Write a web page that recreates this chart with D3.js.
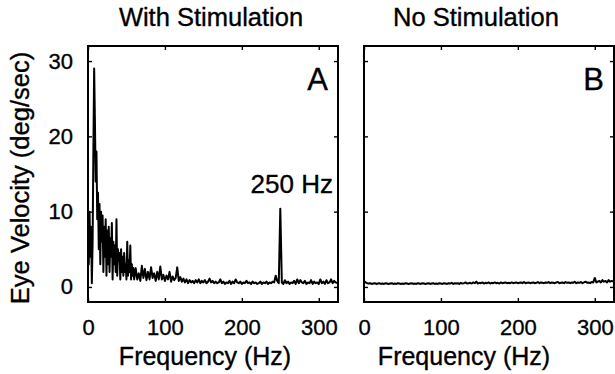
<!DOCTYPE html>
<html>
<head>
<meta charset="utf-8">
<script src="https://cdn.jsdelivr.net/npm/d3@7"></script>
<style>
  html, body { margin: 0; padding: 0; background: #fff; }
  svg { display: block; font-family: "Liberation Sans", Arial, Helvetica, sans-serif; }
  text { fill: #000; stroke: #000; stroke-width: 0.35px; }
</style>
</head>
<body>
<svg id="chart" width="615" height="374"></svg>
<script>
// ---------------- data ----------------
const panelTitles = ["With Stimulation", "No Stimulation"];
const panelLetters = ["A", "B"];
const xTicks = [0, 100, 200, 300];
const yTicks = [0, 10, 20, 30];
const xLabel = "Frequency (Hz)";
const yLabel = "Eye Velocity (deg/sec)";
const peakLabel = "250 Hz";

// Panel A: 1 Hz resolution for 0–59 Hz
const freqA_low = d3.range(0, 60, 1);
const valuesA_low = [
  7, 3, 10, 4, 8, 0.5, 6, 18, 29, 22,
  14, 18, 9, 12.5, 5, 11, 3, 10, 6, 9.5,
  2, 8, 4, 9, 1.5, 7.5, 3, 8, 2, 6.5,
  4, 8.5, 1, 6, 3, 5.5, 2, 9, 1.5, 5,
  3.5, 4.5, 1, 5, 2, 4, 1.5, 4.5, 2, 3,
  1, 6, 1.5, 3.5, 2, 5.5, 1, 3, 1.5, 2.5
];
// Panel A: 2 Hz resolution for 60–324 Hz
const freqA_high = d3.range(60, 326, 2);
const valuesA_high = [
  1, 2.5, 1, 1.8, 0.8, 2.8, 1.2, 2.4, 0.9, 2,
  1, 2.6, 1.2, 1.8, 0.8, 2, 1, 2.7, 1, 1.6,
  0.8, 1.5, 1, 2, 0.7, 1.4, 0.9, 1.2, 2.6, 0.8,
  1.3, 0.7, 1.1, 0.6, 1, 0.5, 0.9, 0.6, 0.8, 0.5,
  0.9, 0.6, 1, 0.5, 0.8, 0.6, 0.9, 0.5, 0.7, 1.1,
  0.6, 0.8, 0.5, 0.7, 0.5, 0.6, 1, 0.5, 0.7, 0.4,
  0.6, 0.5, 0.8, 0.4, 0.7, 0.5, 1, 0.6, 0.5, 0.7,
  0.4, 0.6, 0.5, 0.8, 0.5, 0.6, 0.4, 0.7, 0.5, 0.6,
  0.4, 0.5, 0.7, 0.4, 0.6, 0.5, 0.7, 0.4, 0.6, 0.5,
  0.7, 0.6, 1.5, 0.8, 0.5, 10.4, 0.6, 0.4, 0.9, 0.5,
  0.7, 0.4, 0.6, 0.5, 0.8, 0.4, 1, 0.5, 0.9, 0.6,
  0.5, 0.8, 0.4, 0.6, 0.5, 0.9, 0.4, 0.7, 0.5, 0.6,
  0.4, 1, 0.5, 0.7, 0.4, 0.9, 0.5, 0.6, 1, 0.5,
  0.8, 0.6, 0.5
];

// Panel B: 2 Hz resolution for 0–324 Hz
const freqB = d3.range(0, 326, 2);
const valuesB = [
  0.8, 0.6, 0.5, 0.45, 0.5, 0.4, 0.45, 0.5, 0.4, 0.45,
  0.5, 0.4, 0.45, 0.4, 0.5, 0.45, 0.4, 0.45, 0.5, 0.4,
  0.45, 0.4, 0.5, 0.45, 0.4, 0.45, 0.4, 0.5, 0.45, 0.4,
  0.45, 0.5, 0.4, 0.45, 0.4, 0.5, 0.45, 0.4, 0.5, 0.45,
  0.4, 0.45, 0.5, 0.4, 0.45, 0.5, 0.4, 0.45, 0.4, 0.5,
  0.45, 0.4, 0.5, 0.45, 0.4, 0.5, 0.45, 0.55, 0.4, 0.5,
  0.45, 0.5, 0.4, 0.55, 0.45, 0.5, 0.6, 0.45, 0.5, 0.55,
  0.45, 0.6, 0.5, 0.7, 0.45, 0.55, 0.5, 0.6, 0.45, 0.55,
  0.5, 0.6, 0.45, 0.55, 0.5, 0.6, 0.5, 0.55, 0.45, 0.6,
  0.5, 0.55, 0.6, 0.5, 0.55, 0.5, 0.6, 0.5, 0.55, 0.6,
  0.5, 0.55, 0.6, 0.5, 0.65, 0.5, 0.55, 0.6, 0.5, 0.55,
  0.6, 0.5, 0.55, 0.65, 0.5, 0.6, 0.55, 0.5, 0.6, 0.55,
  0.65, 0.5, 0.6, 0.55, 0.5, 0.6, 0.65, 0.5, 0.55, 0.6,
  0.5, 0.65, 0.55, 0.6, 0.5, 0.6, 0.55, 0.7, 0.5, 0.6,
  0.55, 0.65, 0.5, 0.6, 0.7, 0.55, 0.6, 0.5, 0.65, 0.6,
  1.2, 0.6, 0.7, 0.8, 0.6, 0.9, 0.7, 0.8, 0.6, 0.9,
  0.7, 0.8, 0.7
];

// ---------------- build series ----------------
function zip(fs, vs) {
  const n = Math.min(fs.length, vs.length);
  const out = [];
  for (let i = 0; i < n; i++) out.push({ f: fs[i], v: vs[i] });
  return out;
}
const seriesA = zip(freqA_low, valuesA_low).concat(zip(freqA_high, valuesA_high));
const seriesB = zip(freqB, valuesB);

// ---------------- layout ----------------
const svg = d3.select("#chart");
const panelW = 250, panelH = 256, plotTop = 46;
const panels = [
  { left: 88, series: seriesA, showY: true, titleX: 211, labelX: 205 },
  { left: 364, series: seriesB, showY: false, titleX: 476, labelX: 464 }
];
const xDomain = [0, 325];
const yDomain = [-2, 32];

panels.forEach((p, i) => {
  const x = d3.scaleLinear().domain(xDomain).range([0, panelW]);
  const y = d3.scaleLinear().domain(yDomain).range([panelH, 0]);
  const g = svg.append("g").attr("transform", `translate(${p.left},${plotTop})`);

  const clipId = "clip" + i;
  g.append("clipPath").attr("id", clipId)
    .append("rect").attr("width", panelW).attr("height", panelH);
  g.append("path")
    .datum(p.series)
    .attr("clip-path", `url(#${clipId})`)
    .attr("fill", "none")
    .attr("stroke", "#000")
    .attr("stroke-width", 2)
    .attr("stroke-linejoin", "round")
    .attr("d", d3.line().x(d => x(d.f)).y(d => y(d.v)));

  const styleAxis = sel => {
    sel.select(".domain").remove();
    sel.selectAll(".tick line").attr("stroke", "#000").attr("stroke-width", 1.4);
    sel.selectAll("text").style("font-size", "22px")
      .style("font-family", '"Liberation Sans", Arial, sans-serif');
  };
  g.append("g").attr("transform", `translate(0,${panelH})`)
    .call(d3.axisBottom(x).tickValues(xTicks).tickSize(-4).tickPadding(17).tickFormat(d3.format("d")))
    .call(styleAxis);
  g.append("g")
    .call(d3.axisTop(x).tickValues(xTicks).tickSize(-4).tickFormat(""))
    .call(styleAxis);
  g.append("g")
    .call(d3.axisLeft(y).tickValues(yTicks).tickSize(-4).tickPadding(15)
      .tickFormat(p.showY ? d3.format("d") : ""))
    .call(styleAxis);
  g.append("g").attr("transform", `translate(${panelW},0)`)
    .call(d3.axisRight(y).tickValues(yTicks).tickSize(-4).tickFormat(""))
    .call(styleAxis);

  g.append("rect").attr("width", panelW).attr("height", panelH)
    .attr("fill", "none").attr("stroke", "#000").attr("stroke-width", 2);

  g.append("text").attr("x", panelW - 10).attr("y", 44)
    .attr("text-anchor", "end").style("font-size", "31px").text(panelLetters[i]);

  svg.append("text").attr("x", p.titleX).attr("y", 26)
    .attr("text-anchor", "middle").style("font-size", "25.5px").text(panelTitles[i]);

  svg.append("text").attr("x", p.labelX).attr("y", 365)
    .attr("text-anchor", "middle").style("font-size", "25px").text(xLabel);

  if (i === 0) {
    g.append("text").attr("x", 245).attr("y", y(12.5))
      .attr("text-anchor", "end").style("font-size", "26px").text(peakLabel);
  }
});

svg.append("text")
  .attr("transform", "translate(29,178) rotate(-90)")
  .attr("text-anchor", "middle").style("font-size", "25.5px").text(yLabel);
</script>
</body>
</html>
